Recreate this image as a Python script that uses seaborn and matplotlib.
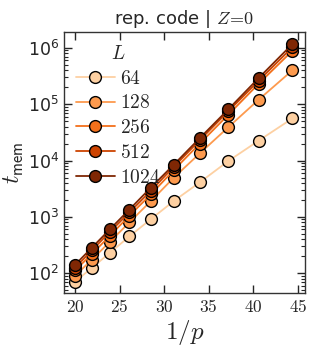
import numpy as np
import pandas as pd
import seaborn as sns
import matplotlib.pyplot as plt

# data
inv_p = [20.0, 21.9, 23.9, 26.1, 28.5, 31.1, 34.0, 37.2, 40.6, 44.4]
sizes = [64, 128, 256, 512, 1024]
t_64 = [71, 125, 230, 450, 910, 1920, 4100, 9800, 22500, 56000]
t_128 = [90, 175, 360, 800, 1900, 5000, 13400, 39000, 120000, 400000]
t_256 = [112, 220, 460, 1050, 2500, 6800, 20000, 65000, 230000, 890000]
t_512 = [125, 255, 540, 1200, 2900, 7800, 23000, 75000, 260000, 1030000]
t_1024 = [141, 285, 600, 1350, 3300, 8500, 25000, 81000, 290000, 1170000]

rows = []
for L, vals in zip(sizes, [t_64, t_128, t_256, t_512, t_1024]):
    for x, t in zip(inv_p, vals):
        rows.append({"inv_p": x, "t": t, "L": f"${L}$"})
df = pd.DataFrame(rows)

sns.set_style("ticks")
plt.rcParams["mathtext.fontset"] = "cm"
plt.rcParams["font.family"] = ["DejaVu Sans"]

cmap = plt.get_cmap("Oranges")
palette = [cmap(v) for v in [0.25, 0.45, 0.6, 0.78, 1.0]]

fig = plt.figure(figsize=(3.17, 3.49), dpi=100)
ax = fig.add_axes([0.202, 0.161, 0.76, 0.747])

sns.lineplot(data=df, x="inv_p", y="t", hue="L", palette=palette,
             marker="o", markersize=8.5, markeredgecolor="black",
             markeredgewidth=1.0, linewidth=1.3, ax=ax)

ax.set_yscale("log")
ax.set_xlim(18.77, 45.8)
ax.set_ylim(45, 1.9e6)
ax.set_xticks([20, 25, 30, 35, 40, 45])
ax.set_xticklabels([f"${v}$" for v in [20, 25, 30, 35, 40, 45]])
ax.tick_params(which="both", direction="in", top=True, right=True, labelsize=12.5)
ax.tick_params(which="major", length=6, width=1)
ax.tick_params(which="minor", length=3, width=0.8)
for s in ax.spines.values():
    s.set_linewidth(1.0)
    s.set_color("#333333")

ax.set_xlabel("$1/p$", fontsize=18, labelpad=2)
ax.set_ylabel(r"$t_{\mathsf{mem}}$", fontsize=17, labelpad=1)
ax.set_title(r"rep. code | $Z\!=\!0$", fontsize=13)

ax.legend(title="$L$", frameon=False, loc="upper left", fontsize=14,
          title_fontsize=14, handlelength=2.0, handletextpad=0.3,
          labelspacing=0.3, borderaxespad=0.2)

fig.savefig("out.png", dpi=100)
